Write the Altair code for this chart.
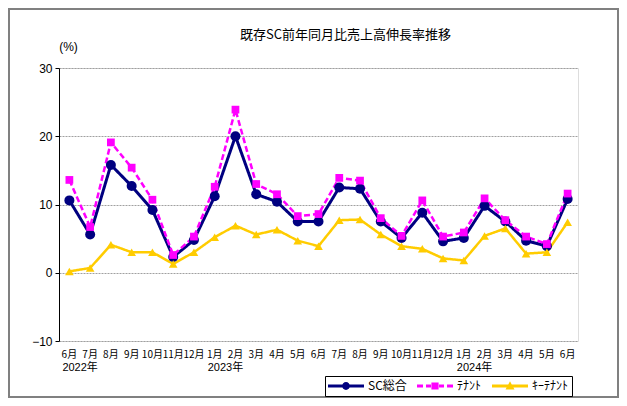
import altair as alt
import pandas as pd

# ---- data ----
periods = ["2022-06", "2022-07", "2022-08", "2022-09", "2022-10", "2022-11", "2022-12",
           "2023-01", "2023-02", "2023-03", "2023-04", "2023-05", "2023-06", "2023-07",
           "2023-08", "2023-09", "2023-10", "2023-11", "2023-12",
           "2024-01", "2024-02", "2024-03", "2024-04", "2024-05", "2024-06"]
month_labels = ["6月", "7月", "8月", "9月", "10月", "11月", "12月", "1月", "2月", "3月",
                "4月", "5月", "6月", "7月", "8月", "9月", "10月", "11月", "12月", "1月",
                "2月", "3月", "4月", "5月", "6月"]
sc_total = [10.6, 5.6, 15.8, 12.7, 9.2, 2.3, 4.8, 11.2, 20.0, 11.5, 10.4, 7.5, 7.5, 12.5,
            12.3, 7.5, 5.1, 8.8, 4.6, 5.1, 9.8, 7.5, 4.7, 3.9, 10.8]
tenant = [13.6, 6.7, 19.1, 15.4, 10.7, 2.6, 5.3, 12.6, 23.9, 13.0, 11.5, 8.3, 8.6, 13.9,
          13.5, 8.0, 5.4, 10.6, 5.3, 5.9, 10.9, 7.7, 5.3, 4.2, 11.6]
key_tenant = [0.2, 0.7, 4.1, 3.0, 3.0, 1.3, 3.0, 5.2, 6.9, 5.6, 6.3, 4.7, 3.9, 7.7,
              7.8, 5.6, 3.9, 3.5, 2.1, 1.8, 5.4, 6.5, 2.8, 3.0, 7.4]
series_names = ["SC総合", "ﾃﾅﾝﾄ", "ｷｰﾃﾅﾝﾄ"]
year_labels = ["2022年", "2023年", "2024年"]
year_periods = ["2022-06", "2023-01", "2024-01"]
title_text = "既存SC前年同月比売上高伸長率推移"

colors = ["#000080", "#FF00FF", "#FFCC00"]
shapes = ["circle", "square", "triangle-up"]
marker_sizes = [100, 60, 75]
dashes = [[1, 0], [6, 3], [1, 0]]
widths = [3, 2.5, 2.5]

# legend symbols: line + marker (unit = 6px, centered at x=0 of a 12px box)
legend_paths = [
    "M-1,-0.25H5V0.25H-1Z M2.65,0A0.65,0.65 0 1,1 1.35,0A0.65,0.65 0 1,1 2.65,0Z",
    "M-1,-0.25H0V0.25H-1Z M0.5,-0.25H1.33V0.25H0.5Z M1.4,-0.6H2.6V0.6H1.4Z "
    "M2.67,-0.25H3.5V0.25H2.67Z M4,-0.25H5V0.25H4Z",
    "M-1,-0.25H5V0.25H-1Z M2,-0.8L2.75,0.6L1.25,0.6Z",
]

rows = []
for name, vals in zip(series_names, [sc_total, tenant, key_tenant]):
    for p, v in zip(periods, vals):
        rows.append({"period": p, "series": name, "value": v})
df = pd.DataFrame(rows)
years_df = pd.DataFrame({"period": year_periods, "label": year_labels})
months_df = pd.DataFrame({"period": periods, "label": month_labels})

FONT = "Liberation Sans, Noto Sans CJK JP, sans-serif"
JFONT = "Noto Sans CJK JP, sans-serif"
W, H = 519, 273

xscale = alt.Scale(type="band", domain=periods, paddingInner=0, paddingOuter=0)
yscale = alt.Scale(domain=[-10, 30], nice=False, zero=False)

x_enc = alt.X(
    "period:N", scale=xscale, bandPosition=0.5, sort=None,
    axis=alt.Axis(
        orient="bottom", offset=-68, title=None, labels=False,
        domainColor="black", domainWidth=1, tickColor="black", tickSize=4,
        tickBand="extent", grid=False,
    ),
)
y_enc = alt.Y(
    "value:Q", scale=yscale,
    axis=alt.Axis(
        values=[-10, 0, 10, 20, 30], grid=True, gridColor="#a0a0a0", gridDash=[2, 1],
        gridWidth=1, domainColor="black", tickColor="black", tickSize=4,
        labelFont=FONT, labelFontSize=12, labelColor="black", labelPadding=3,
        title="(%)", titleAngle=0, titleX=9, titleY=-22, titleAlign="center",
        titleBaseline="middle", titleFont=FONT, titleFontSize=12,
        titleFontWeight="normal", titleColor="black",
    ),
)

base = alt.Chart(df)
layers = []
for name, c, d, w in zip(series_names, colors, dashes, widths):
    layers.append(
        base.transform_filter(alt.datum.series == name)
        .mark_line(color=c, strokeDash=d, strokeWidth=w)
        .encode(x=x_enc, y=y_enc)
    )
for name, c, s, sz in zip(series_names, colors, shapes, marker_sizes):
    layers.append(
        base.transform_filter(alt.datum.series == name)
        .mark_point(shape=s, filled=True, color=c, size=sz, opacity=1)
        .encode(x=x_enc, y=y_enc)
    )

x_text = alt.X("period:N", scale=xscale, bandPosition=0.5, axis=None)
months = alt.Chart(months_df).mark_text(
    align="center", baseline="middle", font=JFONT, fontSize=10, color="black"
).encode(x=x_text, y=alt.value(287), text="label:N")
layers.append(months)

years = alt.Chart(years_df).mark_text(
    align="left", baseline="middle", dx=-7, font=FONT, fontSize=11, color="black"
).encode(x=x_text, y=alt.value(300), text="label:N")
layers.append(years)

leg = alt.Legend(
    title=None, orient="none", legendX=266, legendY=308, direction="horizontal",
    strokeColor="black", padding=3, symbolSize=144,
    symbolStrokeWidth=0, symbolOpacity=1, labelFont=JFONT, labelFontSize=12,
    labelColor="black", labelOffset=28, columnPadding=10, clipHeight=14,
)
legend_layer = base.transform_filter("false").mark_point(filled=True, opacity=1).encode(
    x=alt.X("period:N", scale=xscale),
    y=alt.Y("value:Q", scale=yscale),
    fill=alt.Fill("series:N", scale=alt.Scale(domain=series_names, range=colors), legend=leg),
    shape=alt.Shape("series:N", scale=alt.Scale(domain=series_names, range=legend_paths), legend=leg),
)
layers.append(legend_layer)

border = alt.Chart(alt.Data(values=[{}])).mark_rect(
    fill=None, stroke="#808080", strokeWidth=2
).encode(x=alt.value(-50), x2=alt.value(559), y=alt.value(-59), y2=alt.value(329))
layers.append(border)

chart = alt.layer(*layers).properties(
    width=W, height=H,
    title=alt.Title(title_text, anchor="middle", dx=27, dy=40, offset=0, baseline="middle",
                    font=JFONT, fontSize=13, fontWeight="normal", color="black"),
    autosize=alt.AutoSizeParams(type="none"),
    padding={"left": 51, "top": 60, "right": 41, "bottom": 57},
).configure_view(stroke=None).configure(background="white")

chart.save("out.html", embed_options={"renderer": "svg", "actions": False})
